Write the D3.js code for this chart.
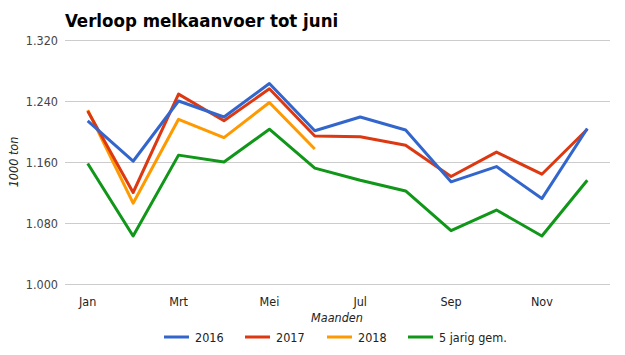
<!DOCTYPE html>
<html><head><meta charset="utf-8">
<script src="https://cdn.jsdelivr.net/npm/d3@7"></script>
<style>body{margin:0;background:#fff;} svg{display:block;font-family:"DejaVu Sans",sans-serif;}</style>
</head><body><div id="chart"></div>
<script>
const months = ["Jan","Feb","Mrt","Apr","Mei","Jun","Jul","Aug","Sep","Okt","Nov","Dec"];
const tickMonths = ["Jan","Mrt","Mei","Jul","Sep","Nov"];
const yTicks = [1000,1080,1160,1240,1320];
const s2016 = [1214,1161,1240,1219,1263,1201,1219,1202,1134,1154,1112,1204];
const s2017 = [1227,1120,1249,1214,1256,1194,1193,1182,1141,1173,1144,1203];
const s2018 = [1228,1106,1216,1192,1238,1177];
const sAvg = [1158,1063,1169,1160,1203,1152,1136,1122,1070,1097,1063,1136];
const seriesNames = ["2016","2017","2018","5 jarig gem."];
const colors = ["#3366cc","#dc3912","#ff9900","#109618"];
const allSeries = [s2016,s2017,s2018,sAvg];

const W=625,H=355;
const cond="DejaVu Sans Condensed, DejaVu Sans";
const svg=d3.select("#chart").append("svg").attr("width",W).attr("height",H);
const x=d3.scaleBand().domain(months).range([65,610]);
const y=d3.scaleLinear().domain([1000,1320]).range([284,40]);

svg.append("text").attr("x",65).attr("y",27).attr("font-size",18.5).attr("font-weight","bold").attr("fill","#000")
  .attr("font-family",cond).text("Verloop melkaanvoer tot juni");

const yAxis=svg.append("g").attr("transform","translate(65,0)")
  .call(d3.axisLeft(y).tickValues(yTicks).tickSize(-545).tickFormat(v=>d3.format(",")(v).replace(",",".")));
yAxis.select(".domain").remove();
yAxis.selectAll("line").attr("stroke","#cccccc");
yAxis.selectAll("text").attr("x",-7).attr("font-size",12.5).attr("fill","#444").attr("font-family",cond);

const xAxis=svg.append("g").attr("transform","translate(0,284)")
  .call(d3.axisBottom(x).tickValues(tickMonths).tickSize(0).tickPadding(13));
xAxis.select(".domain").remove();
xAxis.selectAll("text").attr("font-size",12.5).attr("fill","#222").attr("font-family",cond);

svg.append("text").attr("transform","translate(18,162) rotate(-90)").attr("text-anchor","middle")
  .attr("font-size",12.5).attr("font-style","italic").attr("fill","#222").attr("font-family",cond).text("1000 ton");
svg.append("text").attr("x",337).attr("y",322).attr("text-anchor","middle")
  .attr("font-size",12.5).attr("font-style","italic").attr("fill","#222").attr("font-family",cond).text("Maanden");

const line=d3.line().x((d,i)=>x(months[i])+x.bandwidth()/2).y(d=>y(d));
allSeries.slice().reverse().forEach((s,ri)=>{
  const i=allSeries.length-1-ri;
  svg.append("path").datum(s).attr("d",line).attr("fill","none").attr("stroke",colors[i]).attr("stroke-width",3).attr("stroke-linejoin","round");
});

const legX=[164,245,327,408];
const leg=svg.append("g");
seriesNames.forEach((n,i)=>{
  leg.append("line").attr("x1",legX[i]).attr("x2",legX[i]+25).attr("y1",337).attr("y2",337).attr("stroke",colors[i]).attr("stroke-width",3);
  leg.append("text").attr("x",legX[i]+31).attr("y",341.5).attr("font-size",12.5).attr("fill","#222").attr("font-family",cond).text(n);
});
</script></body></html>
